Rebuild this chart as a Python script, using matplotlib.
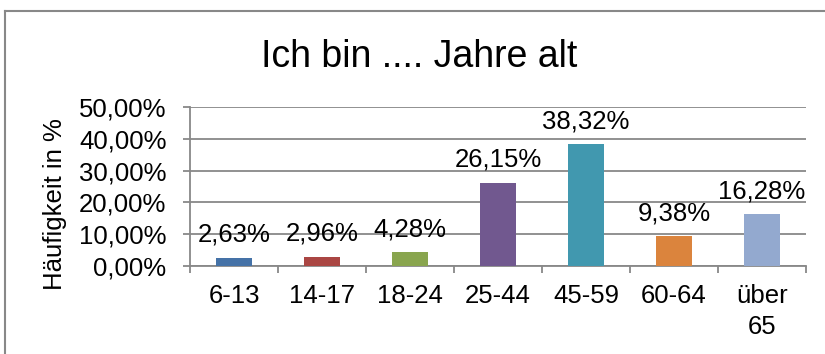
import numpy as np
import matplotlib.pyplot as plt
from matplotlib.lines import Line2D
from matplotlib.ticker import FuncFormatter, FixedLocator

# Altersgruppen und Anteile in %
kategorien = ["6-13", "14-17", "18-24", "25-44", "45-59", "60-64", "über\n65"]
anteile = [2.63, 2.96, 4.28, 26.15, 38.32, 9.38, 16.28]
farben = ["#4572A7", "#AA4643", "#89A54E", "#71588F", "#4198AF", "#DB843D", "#93A9CF"]

plt.rcParams['font.family'] = ['Liberation Sans', 'DejaVu Sans']
grau = "#888888"

fig = plt.figure(figsize=(8.25, 3.54), dpi=100)
ax = fig.add_axes([190/825, 1-266/354, 616/825, 159/354])

x = np.arange(len(kategorien))
ax.bar(x, np.array(anteile)/100, width=0.4, color=farben, zorder=3)

# Datenbeschriftung ueber den Saeulen
for xi, v in zip(x, anteile):
    ax.annotate("{:.2f}%".format(v).replace(".", ","), (xi, v/100),
                xytext=(0, 11.5), textcoords="offset points",
                ha="center", va="baseline", fontsize=18.5)

ax.set_xlim(-0.5, len(kategorien)-0.5)
ax.set_ylim(0, 0.5)
ax.set_yticks(np.arange(0, 0.51, 0.1))
ax.yaxis.set_major_formatter(FuncFormatter(lambda v, p: "{:.2f}%".format(v*100).replace(".", ",")))
ax.grid(axis="y", color=grau, linewidth=1.3, zorder=0)

ax.set_xticks(x)
ax.set_xticklabels(kategorien, fontsize=18.5, linespacing=1.35)
ax.xaxis.set_minor_locator(FixedLocator(np.arange(-0.5, len(kategorien), 1.0)))
ax.tick_params(axis="x", which="major", length=0, pad=13)
ax.tick_params(axis="x", which="minor", length=5, width=1.3, color=grau)
ax.tick_params(axis="y", length=5, width=1.3, color=grau, pad=12, labelsize=18.5)

for s in ["top", "right"]:
    ax.spines[s].set_visible(False)
for s in ["left", "bottom"]:
    ax.spines[s].set_color(grau)
    ax.spines[s].set_linewidth(1.3)

fig.text(55/825, 1-204/354, "Häufigkeit in %", rotation=90,
         ha="center", va="center", fontsize=18.5)
fig.text(419/825, 1-67/354, "Ich bin .... Jahre alt",
         ha="center", va="baseline", fontsize=27)

# Rahmen des Diagrammbereichs
fig.add_artist(Line2D([5/825, 1.0], [1-11/354, 1-11/354], color=grau, linewidth=1.5))
fig.add_artist(Line2D([5/825, 5/825], [0.0, 1-11/354], color=grau, linewidth=1.5))

fig.savefig("out.png", dpi=100)
